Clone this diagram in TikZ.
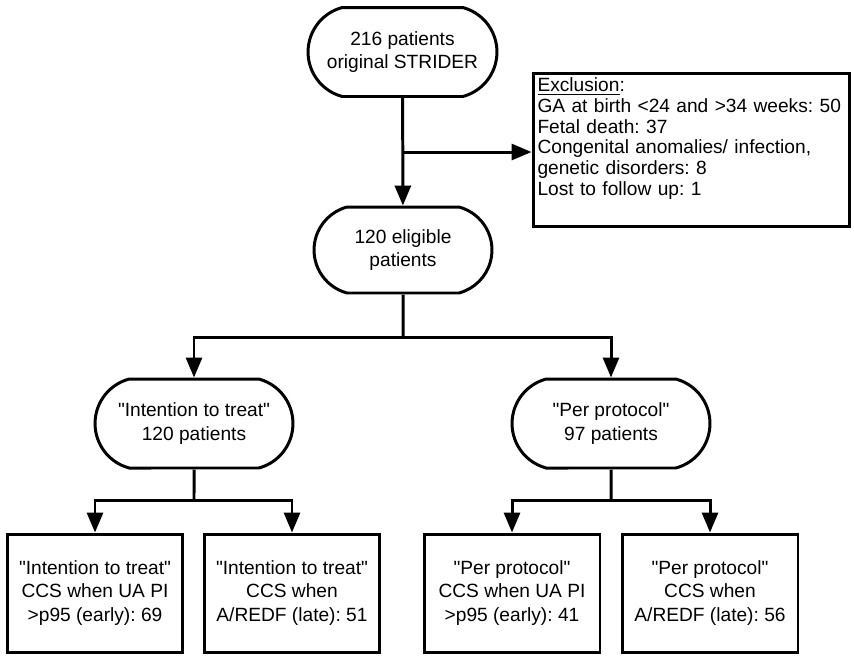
\documentclass[tikz,border=0pt]{standalone}
\usepackage{fontspec}
\setmainfont{Liberation Sans}
\usetikzlibrary{arrows.meta,shapes.misc}
\frenchspacing

\begin{document}
\begin{tikzpicture}[x=0.02cm, y=-0.02cm, line width=1.7pt,
        >={Triangle[width=0.32cm,length=0.4cm]},
        font=\fontsize{10.9}{13.3}\selectfont,
        term/.style={draw, rounded rectangle, rounded rectangle arc length=150,
                     minimum height=1.78cm, inner sep=0pt, align=center},
        result/.style={draw, rectangle, minimum width=3.52cm, minimum height=2.36cm,
                       inner sep=0pt, align=center}]
        \useasboundingbox (0,0) rectangle (854,657);

        % Level 0
        \node[term, minimum width=3.78cm] (start) at (402.5,52) {216 patients\\original STRIDER};
        \node[draw, text width=6.16cm, inner sep=0.09cm, minimum height=3.04cm, align=left,
              font=\fontsize{10.9}{11.8}\selectfont] (excl) at (691.5,150)
            {\underline{Exclusion}:\\
             GA at birth <24 and >34 weeks: 50\\
             Fetal death: 37\\
             Congenital anomalies/ infection,\\
             genetic disorders: 8\\
             Lost to follow up: 1\\
             \strut};

        % Level 1
        \node[term, minimum width=3.56cm, minimum height=1.72cm] (elig) at (403,250) {120 eligible\\patients};

        % Level 2
        \node[term, minimum width=3.96cm] (itt) at (194,423.5) {\textquotedbl Intention to treat\textquotedbl\\120 patients};
        \node[term, minimum width=3.96cm] (pp) at (611,423.5) {\textquotedbl Per protocol\textquotedbl\\97 patients};

        % Level 3
        \node[result] (ittearly) at (95,593) {\textquotedbl Intention to treat\textquotedbl\\CCS when UA PI\\>p95 (early): 69};
        \node[result] (ittlate) at (292,593) {\textquotedbl Intention to treat\textquotedbl\\CCS when\\A/REDF (late): 51};
        \node[result] (ppearly) at (512,593) {\textquotedbl Per protocol\textquotedbl\\CCS when UA PI\\>p95 (early): 41};
        \node[result] (pplate) at (710,593) {\textquotedbl Per protocol\textquotedbl\\CCS when\\A/REDF (late): 56};

        % Connections
        \coordinate (cut) at (403,152);
        \coordinate (fork) at (403,337);
        \coordinate (ittfork) at (194,500);
        \coordinate (ppfork) at (611,500);

        \draw[->] (start) -- (elig);
        \draw[->] (cut) -- (cut -| excl.west);

        \draw (elig) -- (fork);
        \draw[->] (fork) -| (itt.north);
        \draw[->] (fork) -| (pp.north);

        \draw (itt) -- (ittfork);
        \draw[->] (ittfork) -| (ittearly.north);
        \draw[->] (ittfork) -| (ittlate.north);

        \draw (pp) -- (ppfork);
        \draw[->] (ppfork) -| (ppearly.north);
        \draw[->] (ppfork) -| (pplate.north);

\end{tikzpicture}
\end{document}
